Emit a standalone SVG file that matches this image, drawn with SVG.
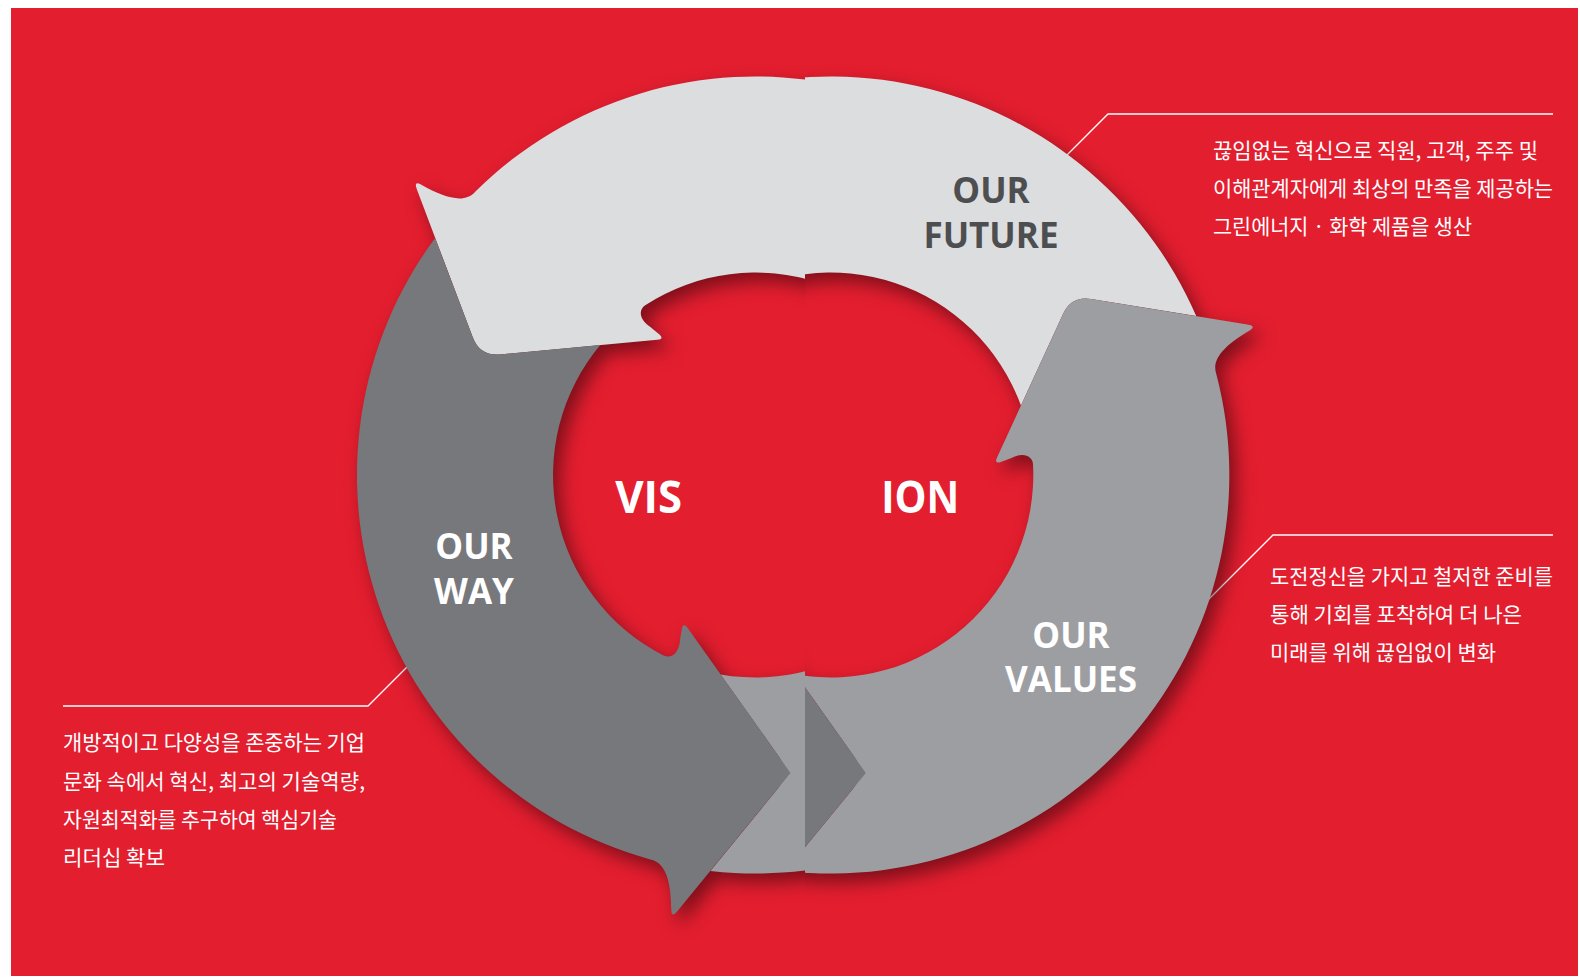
<svg xmlns="http://www.w3.org/2000/svg" xmlns:xlink="http://www.w3.org/1999/xlink" width="1580" height="978" viewBox="0 0 1580 978">
<style>
.future{fill:#DCDDDF}
.values{fill:#9D9EA2}
.way{fill:#77787C}
.label{font-family:"Open Sans","Liberation Sans",sans-serif;font-weight:700;font-size:35px;text-anchor:middle}
.dark{fill:#4D4E50}
.light{fill:#FFFFFF}
.big{font-family:"Open Sans","Liberation Sans",sans-serif;font-weight:700;font-size:45px;fill:#FFFFFF;text-anchor:middle}
.desc{font-family:"Noto Sans CJK KR","Noto Sans",sans-serif;font-weight:400;font-size:21px;fill:#FFFFFF}
.leader{fill:none;stroke:#FFFFFF;stroke-width:1.3}
</style>
<defs>
  <path id="arrow-sharp" d="M 35,298 L -78,436 Q -84,443.5 -84.2,435 C -84.5,408 -89,387.5 -105.2,384.4 A 398.5 398.5 0 0 1 -320.36,-237 L -282.65,-137.39 Q -275.57,-118.69 -255.65,-120.59 L -155.24,-129.94 A 202.5 202.5 0 0 0 -91.93,180.43 C -84.8,184 -76.5,179 -75.5,165 L -73.5,153 Q -72,147 -68,152.7 Z"/>
  <path id="arrow-round" d="M 22.35,313.5 L -78,436 Q -84,443.5 -84.2,435 C -84.5,408 -89,387.5 -105.2,384.4 A 398.5 398.5 0 0 1 -320.36,-237 L -282.65,-137.39 Q -275.57,-118.69 -255.65,-120.59 L -155.24,-129.94 A 202.5 202.5 0 0 0 -91.93,180.43 C -84.8,184 -76.5,179 -75.5,165 L -73.5,153 Q -72,147 -68,152.7 L 23.4,281.7 Q 35,298 22.35,313.5 Z"/>
  <g id="ring-shape">
    <use xlink:href="#arrow-round" transform="rotate(120)"/>
    <use xlink:href="#arrow-round" transform="rotate(240)"/>
    <use xlink:href="#arrow-sharp"/>
  </g>
  <clipPath id="clip-left"><rect x="0" y="0" width="805" height="978"/></clipPath>
  <clipPath id="clip-right"><rect x="805" y="0" width="775" height="978"/></clipPath>
  <filter id="drop" x="-20%" y="-20%" width="140%" height="140%" color-interpolation-filters="sRGB">
    <feGaussianBlur in="SourceAlpha" stdDeviation="9"/>
    <feOffset dx="7" dy="9" result="b"/>
    <feFlood flood-color="#1a0005" flood-opacity="0.5"/>
    <feComposite in2="b" operator="in"/>
  </filter>
</defs>

<rect x="0" y="0" width="1580" height="978" fill="#FFFFFF"/>
<rect x="11" y="8" width="1567" height="968" fill="#E31E2F"/>

<g id="connectors">
  <path class="leader" d="M 1553,114 H 1108 L 1060,162"/>
  <path class="leader" d="M 1553,535 H 1273 L 1204,604"/>
  <path class="leader" d="M 63,706 H 368 L 411,663"/>
</g>

<g id="ring-shadow">
  <g clip-path="url(#clip-left)"><use xlink:href="#ring-shape" transform="translate(755.5,475)" filter="url(#drop)"/></g>
  <g clip-path="url(#clip-right)"><use xlink:href="#ring-shape" transform="translate(830.8,475)" filter="url(#drop)"/></g>
</g>

<g id="node-our-future">
  <g clip-path="url(#clip-left)"><use xlink:href="#arrow-round" class="future" transform="translate(755.5,475) rotate(120)"/></g>
  <g clip-path="url(#clip-right)"><use xlink:href="#arrow-round" class="future" transform="translate(830.8,475) rotate(120)"/></g>
  <text class="label dark" x="991" y="203.3">OUR</text>
  <text class="label dark" x="991" y="248.3">FUTURE</text>
</g>

<g id="node-our-values">
  <g clip-path="url(#clip-left)"><use xlink:href="#arrow-round" class="values" transform="translate(755.5,475) rotate(240)"/></g>
  <g clip-path="url(#clip-right)"><use xlink:href="#arrow-round" class="values" transform="translate(830.8,475) rotate(240)"/></g>
  <text class="label light" x="1071" y="648.3">OUR</text>
  <text class="label light" x="1071" y="691.7">VALUES</text>
</g>

<g id="node-our-way">
  <g clip-path="url(#clip-left)"><use xlink:href="#arrow-sharp" class="way" transform="translate(755.5,475)"/></g>
  <g clip-path="url(#clip-right)"><use xlink:href="#arrow-sharp" class="way" transform="translate(830.8,475)"/></g>
  <text class="label light" x="474" y="559.3">OUR</text>
  <text class="label light" x="474" y="604">WAY</text>
</g>

<g id="node-vision">
  <text class="big" x="648.7" y="513.3" textLength="67" lengthAdjust="spacingAndGlyphs">VIS</text>
  <text class="big" x="920.3" y="513.3" textLength="78" lengthAdjust="spacingAndGlyphs">ION</text>
</g>

<g id="text-future">
  <text class="desc" x="1213" y="157.5" textLength="325" lengthAdjust="spacingAndGlyphs">끊임없는 혁신으로 직원, 고객, 주주 및</text>
  <text class="desc" x="1213" y="195.8" textLength="340" lengthAdjust="spacingAndGlyphs">이해관계자에게 최상의 만족을 제공하는</text>
  <text class="desc" x="1213" y="234" textLength="259" lengthAdjust="spacingAndGlyphs">그린에너지 · 화학 제품을 생산</text>
</g>

<g id="text-values">
  <text class="desc" x="1270" y="583.5" textLength="283" lengthAdjust="spacingAndGlyphs">도전정신을 가지고 철저한 준비를</text>
  <text class="desc" x="1270" y="622" textLength="252" lengthAdjust="spacingAndGlyphs">통해 기회를 포착하여 더 나은</text>
  <text class="desc" x="1270" y="660" textLength="226" lengthAdjust="spacingAndGlyphs">미래를 위해 끊임없이 변화</text>
</g>

<g id="text-way">
  <text class="desc" x="63" y="750" textLength="302" lengthAdjust="spacingAndGlyphs">개방적이고 다양성을 존중하는 기업</text>
  <text class="desc" x="63" y="788.5" textLength="302" lengthAdjust="spacingAndGlyphs">문화 속에서 혁신, 최고의 기술역량,</text>
  <text class="desc" x="63" y="826.5" textLength="274" lengthAdjust="spacingAndGlyphs">자원최적화를 추구하여 핵심기술</text>
  <text class="desc" x="63" y="864.5" textLength="102" lengthAdjust="spacingAndGlyphs">리더십 확보</text>
</g>
</svg>
